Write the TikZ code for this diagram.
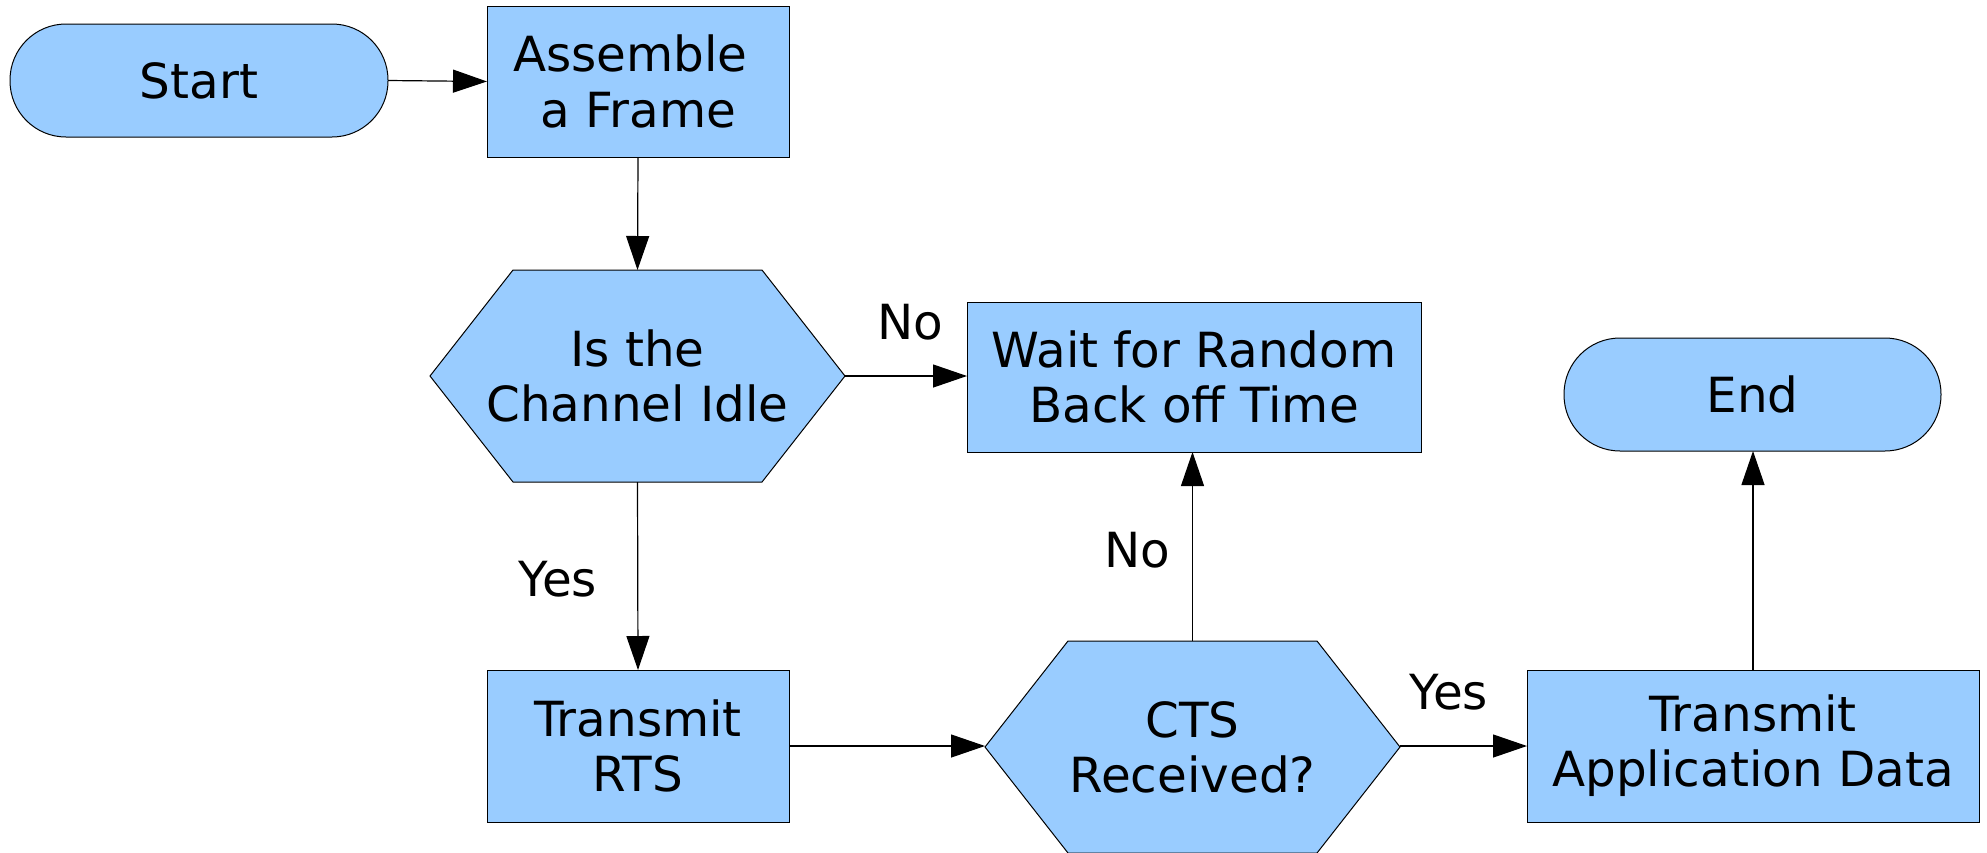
\documentclass[tikz,border=0pt]{standalone}
\usepackage{fontspec}
\setmainfont{DejaVu Sans}
\usetikzlibrary{arrows.meta,backgrounds}
\definecolor{boxblue}{RGB}{153,204,255}
\tikzset{
  every node/.style={font=\fontsize{24.2}{27.6}\selectfont},
  box/.style={draw=black, line width=0.5pt, fill=boxblue, align=center,
    inner sep=0pt, outer sep=0pt},
  terminal/.style={box, rounded corners=28pt},
  hexnode/.style={draw=none, fill=none, align=center, inner sep=0pt, outer sep=0pt,
    minimum width=207.5pt, minimum height=106pt},
  hexfill/.style={draw=black, line width=0.5pt, fill=boxblue},
  flow/.style={draw=black, line width=0.6pt, -{Triangle[length=17pt,width=11.5pt]}},
  lbl/.style={inner sep=0pt}
}
\begin{document}
\begin{tikzpicture}[x=0.5pt, y=-0.5pt]
\useasboundingbox (0,0) rectangle (1987,852);

% process and terminal nodes
\node[terminal, minimum width=189pt, minimum height=56.5pt] (start) at (199,80.5) {Start};
\node[box, minimum width=151pt, minimum height=75.5pt] (assemble) at (638,81.5) {Assemble\hspace*{0.32em}\\a Frame};
\node[hexnode] (idle) at (637.5,376) {Is the\\Channel Idle};
\node[box, minimum width=227pt, minimum height=75pt] (wait) at (1194,377) {Wait for Random\\Back off Time};
\node[terminal, minimum width=188.5pt, minimum height=56.5pt] (end) at (1752.5,394.5) {End};
\node[box, minimum width=151pt, minimum height=76pt] (rts) at (638,746) {Transmit\\RTS};
\node[hexnode] (cts) at (1192.5,747) {CTS\\Received?};
\node[box, minimum width=226pt, minimum height=76pt] (app) at (1753,746) {Transmit\\Application Data};

% hexagonal decision shapes behind their texts
\begin{scope}[on background layer]
  \foreach \h in {idle,cts}{
    \draw[hexfill] (\h.west) -- ([xshift=41.5pt]\h.north west) -- ([xshift=-41.5pt]\h.north east)
      -- (\h.east) -- ([xshift=-41.5pt]\h.south east) -- ([xshift=41.5pt]\h.south west) -- cycle;
  }
\end{scope}

% connectors
\draw[flow] (start.east) -- (assemble.west);
\draw[flow] (assemble.south) -- (idle.north);
\draw[flow] (idle.east) -- (idle.east -| wait.west);
\draw[flow] (idle.south) -- (rts.north);
\draw[flow] (rts.east) -- (rts.east -| cts.west);
\draw[flow] (cts.north) -- (cts.north |- wait.south);
\draw[flow] (app.west -| cts.east) -- (app.west);
\draw[flow] (app.north) -- (app.north |- end.south);

% branch labels
\node[lbl] (no1) at (910,322) {No};
\node[lbl] (yes1) at (558,579) {Yes};
\node[lbl] (no2) at (1137,550) {No};
\node[lbl] (yes2) at (1449,692) {Yes};
\end{tikzpicture}
\end{document}
